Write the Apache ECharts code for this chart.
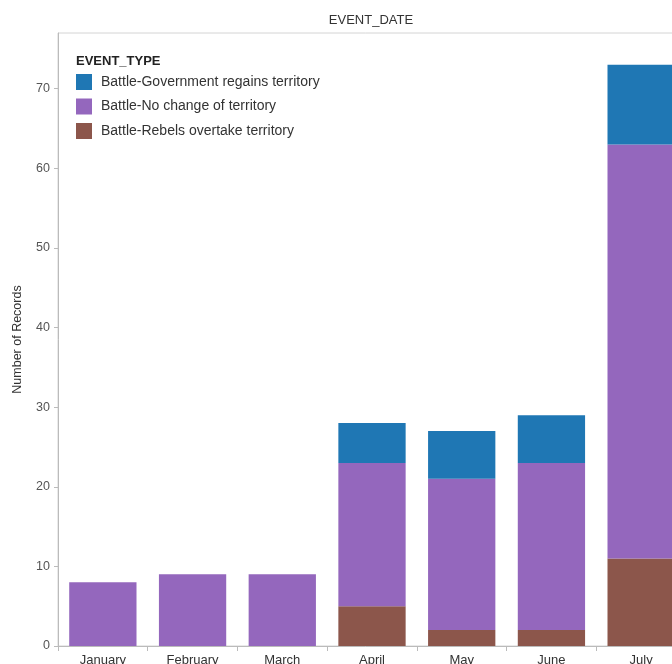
<!DOCTYPE html>
<html>
<head>
<meta charset="utf-8">
<script src="https://cdn.jsdelivr.net/npm/echarts@6/dist/echarts.min.js"></script>
<style>
html,body{margin:0;padding:0;background:#fff;overflow:hidden;}
#chart{width:672px;height:664px;}
</style>
</head>
<body>
<div id="chart"></div>
<script>
const categories = ['January','February','March','April','May','June','July'];
const seriesNames = ['Battle-Government regains territory','Battle-No change of territory','Battle-Rebels overtake territory'];
const govRegains = [0, 0, 0, 5, 6, 6, 10];
const noChange = [8, 9, 9, 18, 19, 21, 52];
const rebelsOvertake = [0, 0, 0, 5, 2, 2, 11];
const yTicks = [0, 10, 20, 30, 40, 50, 60, 70];
const colors = ['#1f77b4', '#9467bd', '#8c564b'];

const font = '"Liberation Sans", Arial, sans-serif';
const chart = echarts.init(document.getElementById('chart'), null, {renderer: 'canvas'});
chart.setOption({
  animation: false,
  textStyle: {fontFamily: font},
  title: [
    {text: 'EVENT_DATE', left: 371, top: 14, textAlign: 'center', padding: 0,
     textStyle: {fontSize: 13, fontWeight: 'normal', color: '#333', fontFamily: font}},
    {text: 'EVENT_TYPE', left: 76, top: 55, padding: 0,
     textStyle: {fontSize: 13, fontWeight: 'bold', color: '#222', fontFamily: font}}
  ],
  legend: {
    orient: 'vertical', left: 76, top: 74, padding: 0,
    itemWidth: 16, itemHeight: 16, itemGap: 8.5,
    icon: 'rect',
    data: seriesNames,
    textStyle: {fontSize: 14, color: '#333', fontFamily: font, padding: [0,0,0,4]},
    selectedMode: false
  },
  grid: {left: 58, top: 33, width: 628, bottom: 18, outerBoundsMode: 'none', show: true, borderColor: '#d4d4d4', borderWidth: 1, containLabel: false},
  xAxis: {
    type: 'category', data: categories,
    axisLine: {lineStyle: {color: '#bbb'}},
    axisTick: {show: true, length: 5, lineStyle: {color: '#bbb'}},
    axisLabel: {fontSize: 13, color: '#333', margin: 8, fontFamily: font}
  },
  yAxis: {
    type: 'value', min: 0, max: 77, interval: 10,
    name: 'Number of Records', nameLocation: 'middle', nameRotate: 90, nameGap: 34,
    nameTextStyle: {fontSize: 12.5, color: '#333', fontFamily: font},
    axisLine: {show: true, lineStyle: {color: '#bbb'}},
    axisTick: {show: true, length: 4, lineStyle: {color: '#bbb'}, customValues: yTicks},
    axisLabel: {fontSize: 12.5, color: '#555', margin: 8, customValues: yTicks, fontFamily: font},
    splitLine: {show: false}
  },
  series: [
    {name: seriesNames[2], type: 'bar', stack: 's', data: rebelsOvertake, itemStyle: {color: colors[2]}, barCategoryGap: '25%'},
    {name: seriesNames[1], type: 'bar', stack: 's', data: noChange, itemStyle: {color: colors[1]}},
    {name: seriesNames[0], type: 'bar', stack: 's', data: govRegains, itemStyle: {color: colors[0]}}
  ]
});
</script>
</body>
</html>
